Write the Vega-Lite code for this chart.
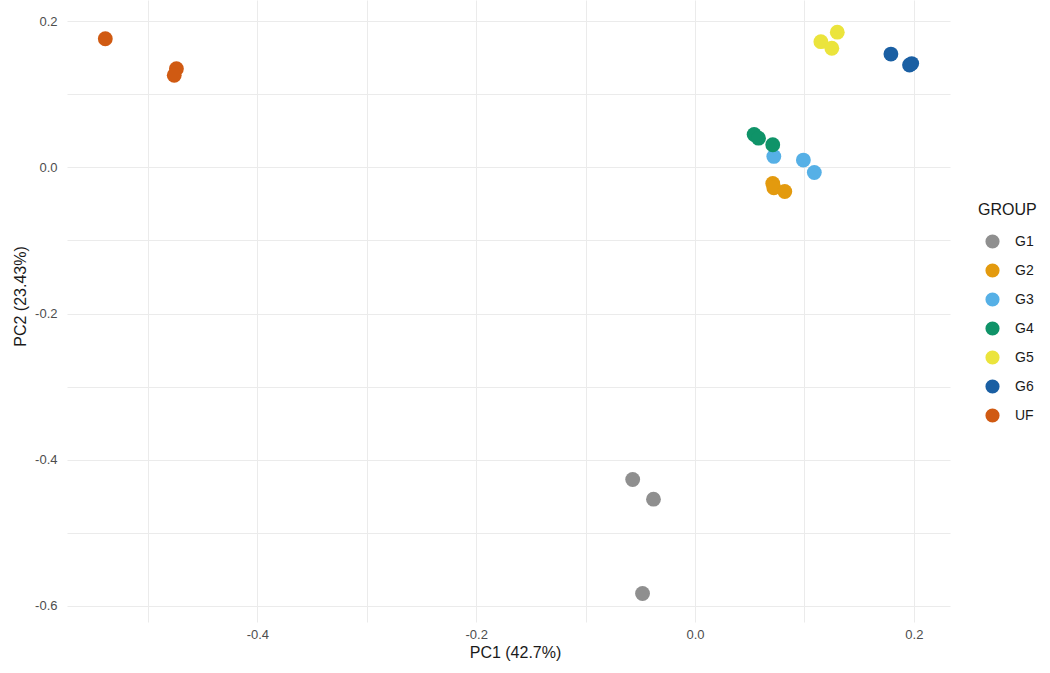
{
  "$schema": "https://vega.github.io/schema/vega-lite/v6.json",
  "autosize": {"type": "none"},
  "width": 883,
  "height": 622,
  "padding": {"left": 67, "top": 0, "right": 100, "bottom": 51},
  "background": "white",
  "config": {
    "view": {"stroke": null},
    "font": "Liberation Sans",
    "axis": {
      "domain": false,
      "ticks": false,
      "gridColor": "#ebebeb",
      "gridWidth": 1,
      "labelColor": "#4d4d4d",
      "labelFontSize": 13,
      "labelFont": "Liberation Sans",
      "titleFont": "Liberation Sans",
      "titleFontSize": 16,
      "titleFontWeight": "normal",
      "titleColor": "#1a1a1a"
    },
    "legend": {
      "titleFont": "Liberation Sans",
      "labelFont": "Liberation Sans"
    }
  },
  "data": {
    "values": [
      {"PC1": -0.057, "PC2": -0.427, "GROUP": "G1"},
      {"PC1": -0.038, "PC2": -0.454, "GROUP": "G1"},
      {"PC1": -0.048, "PC2": -0.583, "GROUP": "G1"},
      {"PC1": 0.071, "PC2": -0.022, "GROUP": "G2"},
      {"PC1": 0.072, "PC2": -0.028, "GROUP": "G2"},
      {"PC1": 0.082, "PC2": -0.033, "GROUP": "G2"},
      {"PC1": 0.072, "PC2": 0.015, "GROUP": "G3"},
      {"PC1": 0.099, "PC2": 0.010, "GROUP": "G3"},
      {"PC1": 0.109, "PC2": -0.007, "GROUP": "G3"},
      {"PC1": 0.054, "PC2": 0.045, "GROUP": "G4"},
      {"PC1": 0.058, "PC2": 0.040, "GROUP": "G4"},
      {"PC1": 0.071, "PC2": 0.031, "GROUP": "G4"},
      {"PC1": 0.130, "PC2": 0.185, "GROUP": "G5"},
      {"PC1": 0.115, "PC2": 0.172, "GROUP": "G5"},
      {"PC1": 0.125, "PC2": 0.163, "GROUP": "G5"},
      {"PC1": 0.179, "PC2": 0.155, "GROUP": "G6"},
      {"PC1": 0.198, "PC2": 0.142, "GROUP": "G6"},
      {"PC1": 0.196, "PC2": 0.140, "GROUP": "G6"},
      {"PC1": -0.539, "PC2": 0.176, "GROUP": "UF"},
      {"PC1": -0.474, "PC2": 0.135, "GROUP": "UF"},
      {"PC1": -0.476, "PC2": 0.126, "GROUP": "UF"}
    ]
  },
  "mark": {"type": "point", "filled": true, "opacity": 1, "size": 220},
  "encoding": {
    "x": {
      "field": "PC1",
      "type": "quantitative",
      "title": "PC1 (42.7%)",
      "scale": {"domain": [-0.574, 0.233], "nice": false, "zero": false},
      "axis": {
        "values": [-0.5, -0.4, -0.3, -0.2, -0.1, 0, 0.1, 0.2],
        "labelExpr": "round(datum.value*10) % 2 == 0 ? replace(format(datum.value, '.1f'), '\u2212', '-') : ''",
        "labelPadding": 6,
        "titlePadding": 3,
        "titleX": 448
      }
    },
    "y": {
      "field": "PC2",
      "type": "quantitative",
      "title": "PC2 (23.43%)",
      "scale": {"domain": [-0.622, 0.229], "nice": false, "zero": false},
      "axis": {
        "values": [-0.6, -0.5, -0.4, -0.3, -0.2, -0.1, 0, 0.1, 0.2],
        "labelExpr": "round(datum.value*10) % 2 == 0 ? replace(format(datum.value, '.1f'), '\u2212', '-') : ''",
        "labelPadding": 10,
        "titlePadding": 6,
        "titleY": 296
      }
    },
    "color": {
      "field": "GROUP",
      "type": "nominal",
      "title": "GROUP",
      "scale": {
        "domain": ["G1", "G2", "G3", "G4", "G5", "G6", "UF"],
        "range": ["#8f8f8f", "#E39A0E", "#56B0E6", "#0F9368", "#EBE43C", "#1A5FA3", "#D05A12"]
      },
      "legend": {
        "orient": "none",
        "legendX": 911,
        "legendY": 202,
        "titleFontSize": 16,
        "titleFontWeight": "normal",
        "titleColor": "#1a1a1a",
        "titlePadding": 16,
        "labelFontSize": 14,
        "labelColor": "#1a1a1a",
        "symbolSize": 200,
        "symbolType": "circle",
        "symbolStrokeWidth": 0,
        "symbolOffset": 7,
        "rowPadding": 14,
        "labelOffset": 15
      }
    }
  }
}
